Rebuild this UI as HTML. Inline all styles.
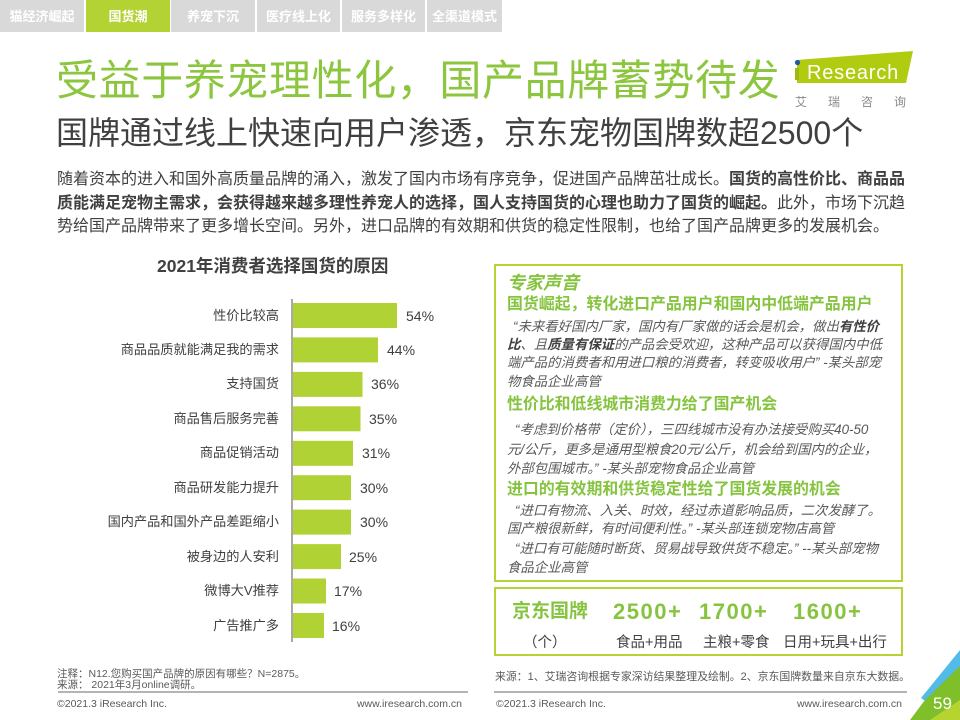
<!DOCTYPE html>
<html><head><meta charset="utf-8">
<style>
*{margin:0;padding:0;box-sizing:border-box}
html,body{width:960px;height:720px;background:#fff;overflow:hidden}
body{position:relative;font-family:"Liberation Sans","Noto Sans CJK SC",sans-serif;color:#404040}
.a{position:absolute;white-space:nowrap}
.tab{position:absolute;top:0;height:32px;background:#d9d9d9;color:#fff;font-weight:bold;font-size:13px;line-height:34px;text-align:center}
.tab.on{background:#b3d234}
.p{position:absolute;left:57px;width:848px;font-size:16px;line-height:23px;height:23px;white-space:nowrap;text-align:justify;text-align-last:justify}
.lab{position:absolute;right:681px;font-size:13.2px;line-height:20px;height:20px;white-space:nowrap;text-align:right;color:#404040}
.val{position:absolute;font-size:14px;line-height:20px;height:20px;color:#404040}
.g{color:#86c440;font-weight:bold}
.q{position:absolute;font-size:13.4px;line-height:18px;height:18px;font-style:italic;color:#595959;white-space:nowrap}
.q b{color:#404040}
.sm{position:absolute;font-size:10.5px;line-height:12px;height:12px;color:#595959;white-space:nowrap}
</style></head>
<body>
<div class="tab" style="left:0;width:84px">猫经济崛起</div>
<div class="tab on" style="left:86px;width:84px">国货潮</div>
<div class="tab" style="left:171px;width:84px">养宠下沉</div>
<div class="tab" style="left:257px;width:83px">医疗线上化</div>
<div class="tab" style="left:342px;width:83px">服务多样化</div>
<div class="tab" style="left:427px;width:75px">全渠道模式</div>

<div class="a" style="left:56px;top:60px;font-size:42px;line-height:42px;color:#8cc63f;letter-spacing:0.6px">受益于养宠理性化，国产品牌蓄势待发</div>
<div class="a" style="left:56px;top:117px;font-size:32px;line-height:32px;color:#404040">国牌通过线上快速向用户渗透，京东宠物国牌数超2500个</div>

<svg class="a" style="left:0;top:0" width="960" height="720">
  <polygon points="797,60 913,51 906,83 797,83" fill="#b0cb10"/>
  <rect x="795" y="68" width="4" height="12" fill="#9cba0c"/>
  <circle cx="797.5" cy="62.5" r="2.6" fill="#1f5aa6"/>
  <text x="807" y="79" font-family="Liberation Sans" font-size="20" letter-spacing="0.8" fill="#fff">Research</text>
  <line x1="292" y1="299" x2="292" y2="642" stroke="#8c8c8c" stroke-width="1.5"/>
  <g fill="#b1d235">
    <rect x="293" y="303" width="104" height="25"/>
    <rect x="293" y="337.4" width="85" height="25"/>
    <rect x="293" y="371.9" width="69.5" height="25"/>
    <rect x="293" y="406.3" width="67.5" height="25"/>
    <rect x="293" y="440.8" width="60" height="25"/>
    <rect x="293" y="475.2" width="58" height="25"/>
    <rect x="293" y="509.6" width="58" height="25"/>
    <rect x="293" y="544.1" width="48" height="25"/>
    <rect x="293" y="578.5" width="33" height="25"/>
    <rect x="293" y="613" width="31" height="25"/>
  </g>
  <rect x="495" y="265" width="407" height="316" fill="none" stroke="#b5d334" stroke-width="2"/>
  <rect x="495" y="588" width="407" height="67" fill="none" stroke="#b5d334" stroke-width="2"/>
  <line x1="58" y1="692" x2="468" y2="692" stroke="#b4b4b4" stroke-width="2"/>
  <line x1="494" y1="692" x2="907" y2="692" stroke="#b4b4b4" stroke-width="2"/>
  <polygon points="960,650 960,668 928,703 921,698" fill="#52bbe8"/>
  <polygon points="960,666 960,720 910,720 925,700" fill="#7fbf2a"/>
  <polygon points="960,700 960,720 930,720" fill="#b6d430"/>
</svg>
<div class="a" style="left:795px;top:95px;font-size:12px;line-height:14px;color:#8a8a8a;letter-spacing:21px">艾瑞咨询</div>

<div class="p" style="top:168px">随着资本的进入和国外高质量品牌的涌入，激发了国内市场有序竞争，促进国产品牌茁壮成长。<b>国货的高性价比、商品品</b></div>
<div class="p" style="top:191.5px"><b>质能满足宠物主需求，会获得越来越多理性养宠人的选择，国人支持国货的心理也助力了国货的崛起。</b>此外，市场下沉趋</div>
<div class="p" style="top:214.5px;text-align:left;text-align-last:left">势给国产品牌带来了更多增长空间。另外，进口品牌的有效期和供货的稳定性限制，也给了国产品牌更多的发展机会。</div>

<div class="a" style="left:157px;top:256px;font-size:17.5px;line-height:20px;font-weight:bold;color:#404040">2021年消费者选择国货的原因</div>

<div class="lab" style="top:305.5px">性价比较高</div>
<div class="lab" style="top:340px">商品品质就能满足我的需求</div>
<div class="lab" style="top:374.4px">支持国货</div>
<div class="lab" style="top:408.8px">商品售后服务完善</div>
<div class="lab" style="top:443.3px">商品促销活动</div>
<div class="lab" style="top:477.7px">商品研发能力提升</div>
<div class="lab" style="top:512.1px">国内产品和国外产品差距缩小</div>
<div class="lab" style="top:546.6px">被身边的人安利</div>
<div class="lab" style="top:581px">微博大V推荐</div>
<div class="lab" style="top:615.5px">广告推广多</div>

<div class="val" style="left:406px;top:305.5px">54%</div>
<div class="val" style="left:387px;top:340px">44%</div>
<div class="val" style="left:371px;top:374.4px">36%</div>
<div class="val" style="left:369px;top:408.8px">35%</div>
<div class="val" style="left:362px;top:443.3px">31%</div>
<div class="val" style="left:360px;top:477.7px">30%</div>
<div class="val" style="left:360px;top:512.1px">30%</div>
<div class="val" style="left:349px;top:546.6px">25%</div>
<div class="val" style="left:334px;top:581px">17%</div>
<div class="val" style="left:332px;top:615.5px">16%</div>

<div class="sm" style="left:57px;top:668px">注释：N12.您购买国产品牌的原因有哪些？N=2875。</div>
<div class="sm" style="left:57px;top:679px">来源： 2021年3月online调研。</div>
<div class="sm" style="left:57px;top:698px">©2021.3 iResearch Inc.</div>
<div class="sm" style="left:355px;top:698px;width:107px;text-align:right">www.iresearch.com.cn</div>

<div class="a g" style="left:507px;top:272px;font-size:18px;line-height:22px;font-style:italic">专家声音</div>
<div class="a g" style="left:507px;top:295px;font-size:15.9px;line-height:20px">国货崛起，转化进口产品用户和国内中低端产品用户</div>
<div class="q" style="left:513px;top:318px">“未来看好国内厂家，国内有厂家做的话会是机会，做出<b>有性价</b></div>
<div class="q" style="left:507px;top:336px"><b>比</b>、且<b>质量有保证</b>的产品会受欢迎，这种产品可以获得国内中低</div>
<div class="q" style="left:507px;top:354px">端产品的消费者和用进口粮的消费者，转变吸收用户”  -某头部宠</div>
<div class="q" style="left:507px;top:373px">物食品企业高管</div>
<div class="a g" style="left:507px;top:395px;font-size:15.9px;line-height:20px">性价比和低线城市消费力给了国产机会</div>
<div class="q" style="left:515px;top:421px">“考虑到价格带（定价），三四线城市没有办法接受购买40-50</div>
<div class="q" style="left:507px;top:441px">元/公斤，更多是通用型粮食20元/公斤，机会给到国内的企业，</div>
<div class="q" style="left:507px;top:460px">外部包围城市。”   -某头部宠物食品企业高管</div>
<div class="a g" style="left:507px;top:480px;font-size:15.9px;line-height:20px">进口的有效期和供货稳定性给了国货发展的机会</div>
<div class="q" style="left:515px;top:502px">“进口有物流、入关、时效，经过赤道影响品质，二次发酵了。</div>
<div class="q" style="left:507px;top:520px">国产粮很新鲜，有时间便利性。”  -某头部连锁宠物店高管</div>
<div class="q" style="left:515px;top:540px">“进口有可能随时断货、贸易战导致供货不稳定。”  --某头部宠物</div>
<div class="q" style="left:507px;top:559px">食品企业高管</div>

<div class="a g" style="left:512px;top:600px;font-size:19px;line-height:24px">京东国牌</div>
<div class="a g" style="left:613px;top:599px;font-size:22px;line-height:26px;letter-spacing:1.5px">2500+</div>
<div class="a g" style="left:699px;top:599px;font-size:22px;line-height:26px;letter-spacing:1.5px">1700+</div>
<div class="a g" style="left:793px;top:599px;font-size:22px;line-height:26px;letter-spacing:1.5px">1600+</div>
<div class="a" style="left:523px;top:633px;font-size:14.5px;line-height:20px;color:#404040">（个）</div>
<div class="a" style="left:616px;top:633px;font-size:14.5px;line-height:20px;color:#404040">食品+用品</div>
<div class="a" style="left:703px;top:633px;font-size:14.5px;line-height:20px;color:#404040">主粮+零食</div>
<div class="a" style="left:783px;top:633px;font-size:14.5px;line-height:20px;color:#404040">日用+玩具+出行</div>

<div class="a" style="left:495px;top:670px;font-size:10.9px;line-height:14px;color:#595959">来源：1、艾瑞咨询根据专家深访结果整理及绘制。2、京东国牌数量来自京东大数据。</div>
<div class="sm" style="left:496px;top:698px">©2021.3 iResearch Inc.</div>
<div class="sm" style="left:795px;top:698px;width:107px;text-align:right">www.iresearch.com.cn</div>

<div class="a" style="left:933px;top:694px;font-size:17px;line-height:20px;color:#fff">59</div>
</body></html>
